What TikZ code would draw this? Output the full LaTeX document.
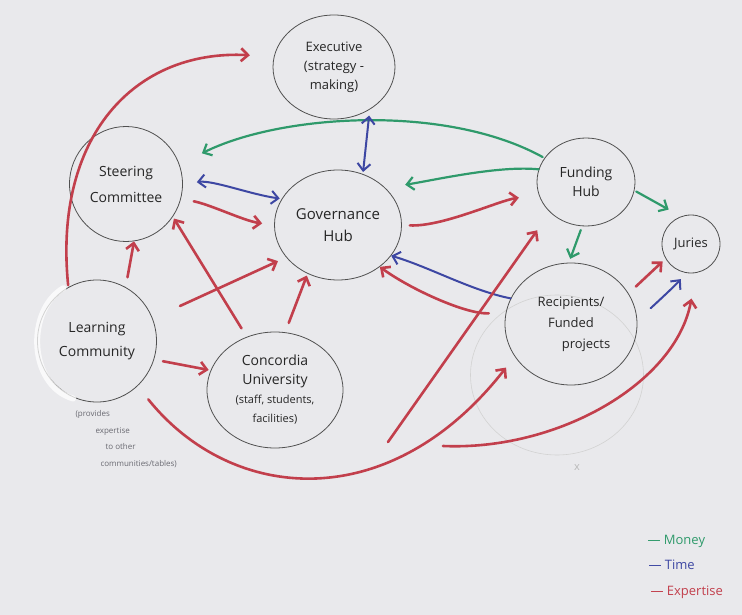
\documentclass[tikz,border=0pt]{standalone}
\usepackage{fontspec}
\setmainfont{Open Sans}
\usetikzlibrary{arrows.meta,shapes.geometric}
\definecolor{paper}{HTML}{E9E9EC}
\definecolor{exred}{HTML}{C23F4C}
\definecolor{mgreen}{HTML}{2F9A6B}
\definecolor{tblue}{HTML}{3D47A3}
\definecolor{pencil}{HTML}{505050}
\definecolor{notegray}{HTML}{6A6A72}
\begin{document}
\begin{tikzpicture}[x=1pt,y=-1pt,
  bubble/.style={draw=pencil, line width=0.8pt, ellipse, inner sep=0pt, align=center,
    text=black!85, font=\fontsize{14}{19}\selectfont},
  barb/.style={-{Straight Barb[length=7pt,width=13pt]}},
  dbarb/.style={{Straight Barb[length=7pt,width=13pt]}-{Straight Barb[length=7pt,width=13pt]}},
  expline/.style={draw=exred, line width=2.6pt, line cap=round, barb},
  moneyline/.style={draw=mgreen, line width=2.2pt, line cap=round, barb},
  timeline/.style={draw=tblue, line width=2pt, line cap=round, barb},
  smalltext/.style={font=\fontsize{11}{14}\selectfont},
]
\fill[paper] (0,0) rectangle (742,615);
\useasboundingbox (0,0) rectangle (742,615);

% faint erased circle and mark
\node[draw=gray!35, line width=0.6pt, ellipse, minimum width=173pt, minimum height=160pt] (old) at (557,375) {};
\node[text=gray!55, font=\fontsize{11}{12}\selectfont] (xmark) at (577,468) {x};

% nodes
\node[bubble, minimum width=122pt, minimum height=104pt, font=\fontsize{13}{19}\selectfont] (ex) at (334,67) {Executive\\(strategy -\\making)};
\node[bubble, minimum width=113pt, minimum height=115pt, font=\fontsize{14}{26}\selectfont] (sc) at (126,184) {Steering\\Committee};
\node[bubble, minimum width=127pt, minimum height=110pt, font=\fontsize{15}{22}\selectfont] (gh) at (338,225) {Governance\\Hub};
\node[bubble, minimum width=98pt, minimum height=88pt] (fh) at (586,182) {Funding\\Hub};
\node[bubble, minimum width=58pt, minimum height=58pt, font=\fontsize{13}{16}\selectfont] (ju) at (691,244) {Juries};
\node[bubble, minimum width=119pt, minimum height=122pt, font=\fontsize{14}{24}\selectfont] (lc) at (97,341) {Learning\\Community};
\node[bubble, minimum width=136pt, minimum height=116pt] (cu) at (275,390) {Concordia\\University\\{\fontsize{11}{16}\selectfont (staff, students,}\\{\fontsize{11}{16}\selectfont facilities)}};
\node[bubble, minimum width=132pt, minimum height=122pt, font=\fontsize{13}{21}\selectfont] (rp) at (571,324) {Recipients/\\Funded\\\hspace*{30pt}projects};

% white smear around learning community
\draw[white, opacity=0.75, line width=6pt, line cap=round] ([xshift=-3pt]lc.120) .. controls (26,310) and (28,385) .. ([xshift=-3pt]lc.-110);

% annotation
\node[anchor=north west, align=left, text=notegray, font=\fontsize{8}{16.5}\selectfont] (note) at (72,407)
  {(provides\\\hspace*{20pt}expertise\\\hspace*{30pt}to other\\\hspace*{25pt}communities/tables)};

% legend
\node[anchor=west, text=mgreen, font=\fontsize{13}{15}\selectfont] (lm) at (644,541) {— Money};
\node[anchor=west, text=tblue, font=\fontsize{13}{15}\selectfont] (lt) at (645,565) {— Time};
\node[anchor=west, text=exred, font=\fontsize{13}{15}\selectfont] (le) at (647,592) {— Expertise};

% free starting points
\coordinate (c14) at (388,442);
\coordinate (c16) at (443,446);

% money (green)
\draw[moneyline, shorten <=2pt, shorten >=25pt] (fh.150) .. controls +(-100,-55) and +(100,-50) .. (sc.20);
\draw[moneyline, shorten >=20pt] (fh.165) .. controls +(-40,-4) and +(50,-8) .. (gh.38);
\draw[moneyline, shorten <=2pt, shorten >=14pt] (fh.-10) -- (ju.110);
\draw[moneyline, shorten <=4pt, shorten >=4pt] (fh.-95) -- (rp.92);

% time (blue)
\draw[draw=tblue, line width=2pt, line cap=round, dbarb, shorten <=6pt, shorten >=2pt] (ex.-50) -- (gh.64);
\draw[draw=tblue, line width=2pt, line cap=round, dbarb, shorten <=14pt, shorten >=2pt] (sc.0) .. controls +(30,-4) and +(-30,-4) .. (gh.155);
\draw[timeline] (rp.157) .. controls +(-40,-8) and +(40,12) .. (gh.-30);
\draw[timeline, shorten <=15pt, shorten >=8pt] (rp.12) .. controls +(15,-2) and +(-10,12) .. (ju.-100);

% expertise (red)
\draw[expline, shorten <=2pt, shorten >=24pt] (lc.118) .. controls +(-15,-150) and +(-140,-7) .. (ex.170);
\draw[expline, shorten <=13pt, shorten >=12pt] (sc.-15) .. controls +(30,6) and +(-30,-4) .. (gh.180);
\draw[expline, shorten <=8pt, shorten >=20pt] (gh.0) .. controls +(40,2) and +(-40,6) .. (fh.195);
\draw[expline, shorten <=10pt, shorten >=4pt] (rp.28) -- (ju.-150);
\draw[expline, shorten <=17pt] (rp.170) .. controls +(-40,2) and +(30,22) .. (gh.-45);
\draw[expline, shorten >=22pt] (c14) -- (fh.-140);
\draw[expline, shorten <=17pt, shorten >=14pt] (lc.-48) .. controls +(94,117) and +(-125,160) .. (rp.-150);
\draw[expline, shorten >=26pt] (c16) .. controls +(115,5) and +(-20,110) .. (ju.-80);
\draw[expline, shorten <=10pt] (lc.62) -- (sc.-82);
\draw[expline, shorten <=30pt, shorten >=9pt] (lc.22) -- (gh.-148);
\draw[expline, shorten <=10pt, shorten >=2pt] (cu.118) -- (sc.-35);
\draw[expline, shorten <=10pt, shorten >=2pt] (cu.80) -- (gh.-122);
\draw[expline, shorten <=9pt, shorten >=2pt] (lc.-18) -- (cu.163);
\end{tikzpicture}
\end{document}
